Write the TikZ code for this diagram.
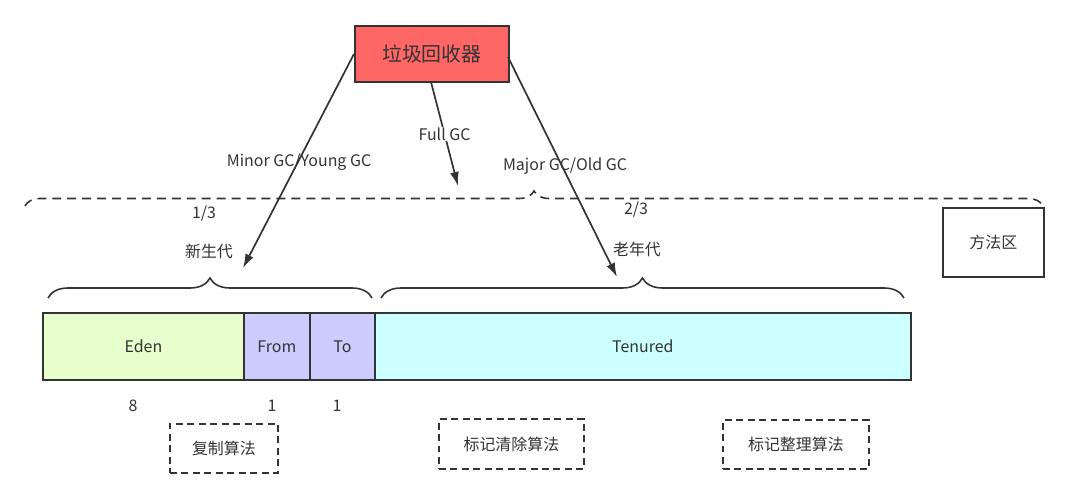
\documentclass[tikz,border=0pt]{standalone}
\usepackage{fontspec}
\setmainfont{Noto Sans CJK SC}
\usepackage{tikz}
\usetikzlibrary{arrows.meta,decorations.pathreplacing,positioning}
\definecolor{ink}{HTML}{333333}
\definecolor{gcred}{HTML}{FF6666}
\definecolor{edengreen}{HTML}{E6FFCC}
\definecolor{survivor}{HTML}{CCCCFF}
\definecolor{oldcyan}{HTML}{CCFFFF}

\begin{document}
\begin{tikzpicture}
    [x=1bp, y=-1bp, font=\fontsize{16}{18}\selectfont, text=ink,
    % STYLES
    % The area style is used to draw the heap areas
    area/.style={rectangle, draw=ink, line width=1.8pt, inner sep=0pt, anchor=north west},
    % The algo style is used to draw the collecting algorithms
    algo/.style={rectangle, draw=ink, line width=1.8pt, dash pattern=on 7pt off 4.5pt, inner sep=0pt, anchor=north west},
    % The gc style is used for the arrows of the collector
    gc/.style={-{Latex[length=14bp, width=9bp]}, draw=ink, line width=1.7pt},
    lbl/.style={fill=white, inner sep=1pt},
    curly/.style={decorate, draw=ink, line width=1.6pt}]

    \useasboundingbox (0,0) rectangle (1068,498);

    % Draw collector
    \node [area, fill=gcred, minimum width=154bp, minimum height=56bp, font=\fontsize{20}{22}\selectfont] (gc) at (354,25) {垃圾回收器};

    % Draw heap
    \node [area, fill=edengreen, minimum width=201bp, minimum height=67bp] (eden) at (42,312) {Eden};
    \node [area, fill=survivor, minimum width=66bp, minimum height=67bp] (from) at (243,312) {From};
    \node [area, fill=survivor, minimum width=65bp, minimum height=67bp] (to) at (309,312) {To};
    \node [area, fill=oldcyan, minimum width=536bp, minimum height=67bp] (tenured) at (374,312) {Tenured};
    \node [area, minimum width=101bp, minimum height=69bp] (method) at (942,207) {方法区};

    % Draw braces
    \coordinate (ya) at (48,298);
    \coordinate (yb) at (372,298);
    \coordinate (oa) at (381,298);
    \coordinate (ob) at (904,298);
    \coordinate (ha) at (25,206);
    \coordinate (hb) at (1043,206);
    \draw [curly, decoration={brace, amplitude=20bp}] (ya) -- (yb);
    \draw [curly, decoration={brace, amplitude=20bp}] (oa) -- (ob);
    \draw [curly, dash pattern=on 9pt off 6pt, decoration={brace, amplitude=15bp}] (ha) -- (hb);

    % Draw labels
    \node (third) at (204,214) {1/3};
    \node (young) at (209,251) {新生代};
    \node (twothird) at (636,210) {2/3};
    \node (eight) at (133,406) {8};
    \node (onea) at (272,406) {1};
    \node (oneb) at (337,406) {1};

    % Draw algorithms
    \node [algo, minimum width=108bp, minimum height=49bp] (copy) at (169,423) {复制算法};
    \node [algo, minimum width=145bp, minimum height=50bp] (sweep) at (438,418) {标记清除算法};
    \node [algo, minimum width=146bp, minimum height=49bp] (compact) at (722,419) {标记整理算法};

    % Draw arrows
    \coordinate (fulltip) at (458,186);
    \coordinate (younghit) at (243,268);
    \coordinate (oldhit) at (617,277);
    \draw [gc] (gc.west) -- (younghit);
    \draw [gc] (431,82) -- (fulltip) node [pos=0.5, lbl] {Full GC};
    \draw [gc] (508,57) -- (oldhit);
    \node (minor) at (299,162) {Minor GC/Young GC};
    \node (major) at (565,166) {Major GC/Old GC};
    \node (old) at (637,249) {老年代};
\end{tikzpicture}
\end{document}
